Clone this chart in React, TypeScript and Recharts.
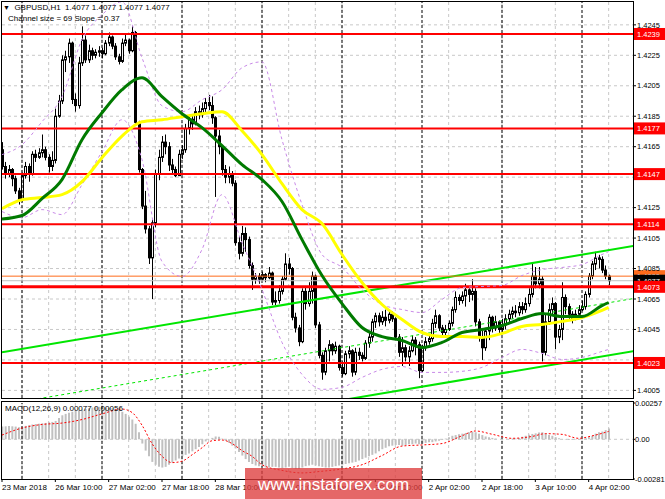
import React from "react";
import { Bar, CartesianGrid, ComposedChart, Line, ReferenceLine, XAxis, YAxis } from "recharts";

const FONT = "'Liberation Sans', Arial, sans-serif";

// prices are stored as pips above 1.4000
const BASE = 1.4;
const toPrice = (pips: number) => Number((BASE + pips / 10000).toFixed(5));

// GBPUSD H1, 23 Mar 18:00 .. 4 Apr 08:00 (bar index 0..182)
const firstOpen = 163;
const closes = [
  152, 147, 150, 144, 136, 130, 146, 152, 147, 160,
  158, 161, 163, 158, 152, 156, 185, 195, 222, 224,
  233, 196, 192, 220, 235, 222, 228, 225, 227, 228,
  226, 233, 237, 231, 224, 221, 233, 235, 228, 240,
  181, 150, 126, 111, 92, 115, 147, 158, 168, 165,
  153, 150, 146, 160, 163, 177, 183, 180, 188, 186,
  190, 194, 192, 184, 172, 165, 150, 145, 147, 141,
  102, 95, 108, 104, 87, 78, 80, 78, 81, 79,
  82, 63, 64, 70, 78, 88, 85, 53, 46, 37,
  70, 62, 70, 80, 48, 28, 17, 31, 35, 31,
  34, 20, 16, 29, 31, 17, 30, 28, 26, 36,
  40, 50, 54, 50, 53, 51, 55, 52, 40, 30,
  33, 27, 31, 38, 35, 18, 33, 37, 39, 49,
  54, 46, 43, 45, 49, 58, 66, 64, 67, 71,
  68, 70, 50, 40, 33, 44, 53, 46, 50, 45,
  48, 52, 55, 57, 56, 60, 58, 62, 68, 80,
  75, 78, 30, 50, 58, 62, 40, 45, 66, 60,
  55, 52, 55, 58, 60, 68, 80, 88, 92, 91,
  84, 80, 77,
];
const highs = [
  168, 155, 153, 151, 146, 138, 148, 155, 154, 162,
  163, 164, 173, 165, 160, 162, 190, 199, 225, 228,
  236, 234, 200, 224, 244, 238, 232, 230, 229, 231,
  230, 235, 240, 238, 233, 226, 236, 239, 236, 244,
  241, 182, 151, 136, 113, 117, 150, 163, 172, 173,
  168, 157, 152, 163, 166, 180, 186, 186, 191, 192,
  194, 197, 199, 198, 185, 176, 166, 153, 152, 149,
  143, 106, 113, 112, 106, 89, 82, 82, 83, 82,
  86, 83, 70, 74, 80, 95, 92, 86, 56, 48,
  72, 73, 76, 83, 81, 50, 30, 33, 38, 36,
  37, 35, 24, 31, 34, 32, 33, 33, 30, 38,
  43, 52, 56, 56, 57, 58, 58, 57, 53, 42,
  40, 35, 34, 41, 40, 37, 35, 40, 42, 52,
  58, 55, 48, 48, 51, 60, 70, 68, 70, 75,
  72, 78, 72, 52, 44, 46, 55, 54, 54, 51,
  52, 55, 58, 60, 61, 63, 63, 66, 72, 89,
  86, 86, 80, 55, 62, 66, 63, 48, 76, 68,
  62, 57, 58, 61, 64, 70, 82, 90, 96, 94,
  93, 87, 81,
];
const lows = [
  150, 144, 145, 139, 134, 127, 129, 144, 142, 146,
  155, 157, 158, 156, 148, 149, 154, 184, 193, 214,
  220, 193, 188, 190, 218, 220, 220, 222, 223, 224,
  223, 225, 231, 229, 222, 219, 220, 231, 226, 227,
  180, 148, 124, 108, 88, 65, 112, 143, 155, 160,
  149, 147, 145, 146, 157, 161, 173, 176, 179, 183,
  184, 187, 189, 180, 132, 160, 146, 141, 141, 139,
  100, 91, 93, 96, 85, 71, 75, 75, 77, 76,
  78, 61, 61, 62, 68, 77, 81, 51, 43, 34,
  36, 58, 60, 62, 46, 26, 12, 15, 24, 28,
  29, 18, 14, 15, 26, 14, 15, 25, 24, 25,
  33, 37, 46, 47, 48, 47, 49, 50, 38, 27,
  21, 24, 21, 30, 28, 13, 17, 31, 35, 37,
  46, 44, 40, 41, 44, 47, 56, 61, 62, 60,
  63, 64, 47, 37, 25, 31, 38, 43, 44, 42,
  43, 45, 50, 52, 53, 54, 55, 56, 60, 66,
  72, 72, 24, 28, 48, 55, 32, 36, 38, 55,
  52, 49, 51, 54, 57, 58, 66, 78, 84, 85,
  82, 78, 74,
];

// indicator lines, sampled every 6 bars
const overlayBars = [0, 6, 12, 18, 24, 30, 36, 42, 48, 54, 60, 66, 72, 78, 84, 90, 96, 102, 108, 114, 120, 126, 132, 138, 144, 150, 156, 162, 168, 174, 180, 182];
const maGreen = [117.5, 119.8, 130.9, 143.4, 169.6, 187.3, 202.4, 210.2, 197.8, 186.6, 177.5, 165.7, 153.2, 143.4, 129, 104, 80.4, 62, 46.3, 40.3, 37.8, 33.2, 36.5, 43, 45, 47.6, 52.2, 55.5, 53.5, 53.5, 60.7, 62.7];
const maYellow = [124.3, 130.2, 131.6, 133.5, 142, 157.8, 172, 181.4, 182.7, 184.7, 186.6, 188, 175.5, 159.8, 140.7, 123.7, 114.5, 94.2, 75.8, 61.4, 51.6, 43, 40.4, 40.4, 39.8, 42.4, 47, 48.3, 50.3, 52.9, 57.5, 59.5];
const bandUpper = [159.8, 166.3, 181.4, 197.8, 235.2, 251.6, 260.1, 223.4, 191.9, 188, 195.8, 202.4, 216.8, 220.7, 169.6, 127, 94.2, 85.7, 71.2, 61.4, 58.1, 56.1, 64.7, 72.5, 73.2, 73.9, 80.4, 84.3, 85.7, 87.6, 94.2, 96.1];
const bandLower = [122.4, 118.4, 123.7, 120.4, 140.1, 161.7, 182.7, 156.5, 89.6, 79.8, 97.5, 133.5, 102, 71.2, 36.5, 15.5, 5.7, 7, 13.5, 18.8, 20.7, 16.8, 16.8, 17.5, 20.1, 26.6, 31.9, 29.3, 25.3, 26.6, 30.6, 31.9];

// regression channel: size 69, slope 0.37
const channelUpper = [{ x: 0, y: 1.403 }, { x: 190, y: 1.41 }];
const channelMiddle = [{ x: 0, y: 1.39955 }, { x: 190, y: 1.40655 }];
const channelLower = [{ x: 0, y: 1.3961 }, { x: 190, y: 1.4031 }];

const redLevels = [1.4239, 1.4177, 1.4147, 1.4114, 1.4023];
const mainLevel = 1.4073;
const orangeLevel = 1.408;
const bidPrice = 1.4077;

// MACD(12,26,9) main histogram, units of 0.0001
const macdHist = [
  9, 9.2, 9.4, 9.2, 9, 8.6, 8.8, 9.5, 10, 10.5,
  10.8, 11, 11.3, 11.6, 12, 12.3, 13, 15, 17, 18,
  18.8, 19.5, 20, 20.5, 21, 21.5, 22, 22.5, 22.8, 23,
  22.8, 22.5, 22.3, 22, 21.5, 20.5, 19.5, 18, 16, 14,
  11, 5, -3, -8, -12, -16, -18, -19.5, -20, -19.5,
  -18, -16.5, -15, -13.5, -12, -11, -10, -8.5, -7, -5.5,
  -3.5, -1.5, 0, 1, 2, 1.8, 0.5, -1, -2.5, -4.5,
  -6.5, -9, -11.5, -14, -16, -17.5, -18.5, -19, -19.5, -20,
  -20, -19.5, -19.5, -20, -20.5, -20, -19.5, -20.5, -21, -21,
  -20, -19, -18.5, -18, -18.5, -19, -19.5, -20, -20, -19.5,
  -19, -18.5, -18, -17.5, -17, -16.5, -16, -15, -14, -13,
  -12, -11, -10, -8.5, -7, -6, -5, -4.5, -4, -4,
  -4.5, -4, -3.5, -3.5, -3, -3.5, -3, -2.5, -2, -2,
  -1.5, -1, -0.5, 0.5, 1.5, 2.5, 3, 3.5, 4, 4.5,
  5, 5.5, 5, 4, 3, 2, 1.5, 1, 0.5, 0,
  -0.3, 0, 0.3, 0.5, 0.5, 1, 1.8, 2.5, 3.2, 3.8,
  4.2, 4.8, 5, 4, 3, 2.5, 1.5, 0.8, 0.2, -0.3,
  -0.5, -0.5, -0.3, -0.3, 0, 0.8, 1.5, 2.5, 4, 5,
  5.5, 6.5, 7.7,
];
const signalBars = [0, 6, 12, 18, 24, 30, 36, 39, 42, 45, 48, 51, 54, 57, 60, 63, 66, 69, 72, 75, 78, 84, 90, 96, 102, 108, 114, 120, 126, 132, 138, 142, 147, 153, 159, 163, 168, 173, 177, 182];
const signalValues = [3, 8, 10.5, 11.5, 14, 18, 21.4, 19, 10, -3, -12, -16.5, -15.5, -11, -6, -1, -0.5, -3, -8, -12, -18, -22, -23.8, -22.6, -21, -18, -11.5, -4.8, -4, -3, 2.5, 5.9, 3.6, 0.7, 2, 4, 3.5, 0.7, 2.4, 5.6];

const priceTicks = [1.4245, 1.4225, 1.4205, 1.4185, 1.4165, 1.4125, 1.4105, 1.4085, 1.4065, 1.4045, 1.4005];
const priceGrid = [1.4245, 1.4225, 1.4205, 1.4185, 1.4165, 1.4145, 1.4125, 1.4105, 1.4085, 1.4065, 1.4045, 1.4025, 1.4005];
const macdTicks = [0.00257, 0, -0.00281];
const hourGrid = [6, 14, 22, 30, 38, 46, 54, 62, 70, 78, 86, 94, 102, 110, 118, 126, 134, 142, 150, 158, 166, 174, 182];
const daySeparators = [6, 30, 54, 78, 102, 126, 150, 174];
const timeTicks = [0, 16, 32, 48, 64, 80, 96, 112, 128, 144, 160, 176];
const timeLabels = ["23 Mar 2018", "26 Mar 10:00", "27 Mar 02:00", "27 Mar 18:00", "28 Mar 10:00", "29 Mar 02:00", "29 Mar 18:00", "30 Mar 10:00", "2 Apr 02:00", "2 Apr 18:00", "3 Apr 10:00", "4 Apr 02:00"];

const X_DOMAIN: [number, number] = [0, 189.3];

const candles = closes.map((close, i) => {
  const open = i === 0 ? firstOpen : closes[i - 1];
  return {
    i,
    open: toPrice(open),
    close: toPrice(close),
    high: toPrice(highs[i]),
    low: toPrice(lows[i]),
    range: [toPrice(lows[i]), toPrice(highs[i])],
  };
});

const overlayRows = overlayBars.map((i, k) => ({
  i,
  green: toPrice(maGreen[k]),
  yellow: toPrice(maYellow[k]),
  upper: toPrice(bandUpper[k]),
  lower: toPrice(bandLower[k]),
}));

const macdRows = macdHist.map((v, i) => ({ i, macd: v / 10000 }));
const signalRows = signalBars.map((i, k) => ({ i, signal: signalValues[k] / 10000 }));

function Candle(props: any) {
  const { x, y, width, height, payload } = props;
  if (x == null || payload == null) return null;
  const top = Math.min(y, y + height);
  const h = Math.abs(height);
  const { open, close, high, low } = payload;
  const span = high - low || 0.00001;
  const toY = (v: number) => top + ((high - v) / span) * h;
  const cx = Math.round(x + width / 2);
  const bodyTop = toY(Math.max(open, close));
  const bodyBottom = toY(Math.min(open, close));
  const up = close >= open;
  return (
    <g>
      <line x1={cx + 0.5} x2={cx + 0.5} y1={top} y2={top + h} stroke="#000" strokeWidth={1} />
      <rect
        x={cx - 0.5}
        y={bodyTop}
        width={2}
        height={Math.max(bodyBottom - bodyTop, 1)}
        fill={up ? "#f4f4f4" : "#000"}
        stroke="#000"
        strokeWidth={1}
      />
    </g>
  );
}

// coloured price box on the right scale for a horizontal level
function PriceTag(props: any) {
  const { viewBox, text, bg, color } = props;
  if (!viewBox) return null;
  const left = viewBox.x + viewBox.width + 1;
  const y = viewBox.y;
  return (
    <g>
      <rect x={left} y={y - 6} width={32} height={12} fill={bg} />
      <text x={left + 3} y={y + 3} fontSize={7.5} fontFamily={FONT} fill={color ?? "#fff"}>
        {text}
      </text>
    </g>
  );
}

function TimeTick(props: any) {
  const { x, y, payload } = props;
  const idx = timeTicks.indexOf(payload.value);
  return (
    <text x={x} y={y} dy={7} fontSize={8} fontFamily={FONT} fill="#000" textAnchor="start">
      {timeLabels[idx]}
    </text>
  );
}

const axisTick = { fontSize: 7.5, fill: "#000", fontFamily: FONT };

function PriceChart() {
  return (
    <ComposedChart width={665} height={401} data={candles} margin={{ top: 2, right: 0, bottom: 3, left: 2 }}>
      <CartesianGrid
        horizontalValues={priceGrid}
        verticalValues={hourGrid}
        stroke="#c8c8c8"
        strokeDasharray="3 3"
      />
      <XAxis dataKey="i" type="number" domain={X_DOMAIN} allowDataOverflow hide />
      <YAxis
        orientation="right"
        type="number"
        domain={[1.4, 1.426]}
        allowDataOverflow
        ticks={priceTicks}
        interval={0}
        width={32}
        tick={axisTick}
        tickSize={3}
        tickMargin={1}
        tickLine={{ stroke: "#000" }}
        axisLine={false}
        tickFormatter={(v: number) => v.toFixed(4)}
      />
      {daySeparators.map((d) => (
        <ReferenceLine key={d} x={d} stroke="#000" strokeDasharray="3 2" />
      ))}
      <ReferenceLine segment={channelUpper} stroke="#00e600" strokeWidth={2} ifOverflow="hidden" />
      <ReferenceLine segment={channelMiddle} stroke="#00e600" strokeDasharray="3 3" ifOverflow="hidden" />
      <ReferenceLine segment={channelLower} stroke="#00e600" strokeWidth={2} ifOverflow="hidden" />
      <ReferenceLine y={orangeLevel} stroke="#ff6a1a" label={<PriceTag text="1.4080" bg="#ff6a1a" />} />
      <ReferenceLine y={bidPrice} stroke="#c0c0c0" label={<PriceTag text="1.4077" bg="#000" />} />
      {redLevels.map((lv) => (
        <ReferenceLine
          key={lv}
          y={lv}
          stroke="#ff0000"
          strokeWidth={2}
          label={<PriceTag text={lv.toFixed(4)} bg="#ff0000" />}
        />
      ))}
      <ReferenceLine y={mainLevel} stroke="#ff0000" strokeWidth={3} label={<PriceTag text="1.4073" bg="#ff0000" />} />
      <Line data={overlayRows} dataKey="upper" type="monotone" stroke="#c98ae8" strokeWidth={1} strokeDasharray="3 3" dot={false} isAnimationActive={false} />
      <Line data={overlayRows} dataKey="lower" type="monotone" stroke="#c98ae8" strokeWidth={1} strokeDasharray="3 3" dot={false} isAnimationActive={false} />
      <Bar dataKey="range" barSize={3} shape={<Candle />} isAnimationActive={false} />
      <Line data={overlayRows} dataKey="yellow" type="monotone" stroke="#ffff00" strokeWidth={3} dot={false} isAnimationActive={false} />
      <Line data={overlayRows} dataKey="green" type="monotone" stroke="#007a00" strokeWidth={3} dot={false} isAnimationActive={false} />
    </ComposedChart>
  );
}

function MacdChart() {
  return (
    <ComposedChart width={665} height={103} data={macdRows} margin={{ top: 7, right: 0, bottom: 0, left: 2 }}>
      <CartesianGrid horizontalValues={[0]} verticalValues={hourGrid} stroke="#c8c8c8" strokeDasharray="3 3" />
      <XAxis
        dataKey="i"
        type="number"
        domain={X_DOMAIN}
        allowDataOverflow
        ticks={timeTicks}
        interval={0}
        height={20}
        tick={<TimeTick />}
        tickSize={3}
        tickMargin={1}
        tickLine={{ stroke: "#000" }}
        axisLine={false}
      />
      <YAxis
        orientation="right"
        type="number"
        domain={[-0.00281, 0.00257]}
        allowDataOverflow
        ticks={macdTicks}
        interval={0}
        width={32}
        tick={axisTick}
        tickSize={2}
        tickMargin={0}
        tickLine={{ stroke: "#000" }}
        axisLine={false}
        tickFormatter={(v: number) => (v === 0 ? "0.00" : v.toFixed(5))}
      />
      {daySeparators.map((d) => (
        <ReferenceLine key={d} x={d} stroke="#000" strokeDasharray="3 2" />
      ))}
      <Bar dataKey="macd" barSize={2} fill="#c0c0c0" isAnimationActive={false} />
      <Line data={signalRows} dataKey="signal" type="monotone" stroke="#ff0000" strokeWidth={1} strokeDasharray="2 2" dot={false} isAnimationActive={false} />
    </ComposedChart>
  );
}

const textStyle: React.CSSProperties = {
  position: "absolute",
  fontSize: 8,
  lineHeight: "9px",
  whiteSpace: "pre",
  color: "#000",
  fontFamily: FONT,
};

export default function App() {
  return (
    <div style={{ position: "absolute", left: 0, top: 0, width: 665, height: 499, background: "#fff", overflow: "hidden", fontFamily: FONT }}>
      <div style={{ position: "absolute", left: 0, top: 0 }}>
        <PriceChart />
      </div>
      <div style={{ position: "absolute", left: 0, top: 396 }}>
        <MacdChart />
      </div>
      <div style={{ position: "absolute", left: 1, top: 1, width: 633, height: 398, border: "1px solid #000", boxSizing: "border-box" }} />
      <div style={{ position: "absolute", left: 1, top: 401, width: 633, height: 79, border: "1px solid #000", boxSizing: "border-box" }} />
      <div style={{ ...textStyle, left: 3, top: 3 }}>
        <span style={{ fontSize: 7 }}>▼</span>
        {"  GBPUSD,H1  1.4077 1.4077 1.4077 1.4077"}
      </div>
      <div style={{ ...textStyle, left: 8, top: 14 }}>Channel size = 69 Slope = 0.37</div>
      <div style={{ ...textStyle, left: 5, top: 404 }}>MACD(12,26,9) 0.00077 0.00056</div>
      <div
        style={{
          position: "absolute",
          left: 245,
          top: 468,
          width: 177,
          height: 31,
          background: "rgba(222, 60, 60, 0.78)",
          color: "#fff",
          fontSize: 17,
          lineHeight: "34px",
          textAlign: "center",
          fontFamily: FONT,
        }}
      >
        www.instaforex.com
      </div>
    </div>
  );
}
